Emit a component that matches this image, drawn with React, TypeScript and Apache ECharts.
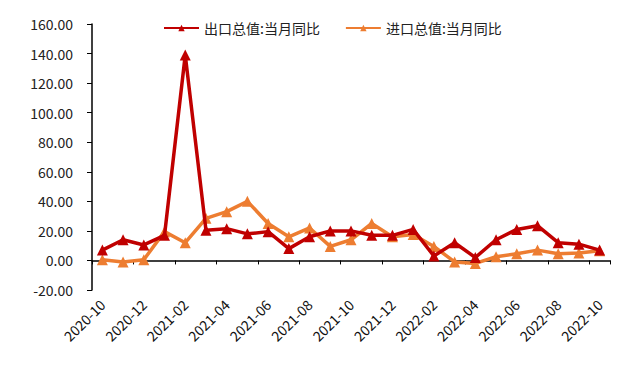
import React, { useEffect, useRef } from "react";
import * as echarts from "echarts";

const categories = [
  "2020-10", "2020-11", "2020-12", "2021-01", "2021-02", "2021-03", "2021-04",
  "2021-05", "2021-06", "2021-07", "2021-08", "2021-09", "2021-10", "2021-11",
  "2021-12", "2022-01", "2022-02", "2022-03", "2022-04", "2022-05", "2022-06",
  "2022-07", "2022-08", "2022-09", "2022-10",
];

const exportYoY = [
  7, 14, 10.5, 17, 139, 20.5, 21.5, 18, 19.5, 8, 16, 20, 20, 17, 17, 21, 3, 12, 2, 14, 21, 23.5, 12, 11, 7,
];

const importYoY = [
  0.5, -1, 0.5, 19.5, 12, 28.5, 33, 40, 25, 16, 22, 9.5, 14, 25, 16, 17.5, 9.5, -1, -2, 2.5, 4.5, 7, 4.5, 5, 6.5,
];

const seriesNames = ["出口总值:当月同比", "进口总值:当月同比"];
const seriesColors = ["#C00000", "#ED7D31"];

const yMin = -20;
const yMax = 160;
const yStep = 20;

const FONT = "'Noto Sans CJK SC', 'Noto Sans', sans-serif";

export default function App() {
  const ref = useRef<HTMLDivElement>(null);

  useEffect(() => {
    document.body.style.margin = "0";
    if (!ref.current) return;
    const chart = echarts.init(ref.current, undefined, { renderer: "svg" });
    const mkSeries = (i: number, data: number[]) => ({
      name: seriesNames[i],
      type: "line",
      xAxisIndex: 0,
      data,
      symbol: "triangle",
      symbolSize: 11,
      lineStyle: { width: 3.5, color: seriesColors[i] },
      itemStyle: { color: seriesColors[i] },
      z: i === 0 ? 3 : 2,
    });
    chart.setOption({
      animation: false,
      textStyle: { fontFamily: FONT },
      legend: {
        top: 16,
        left: 158,
        itemWidth: 35,
        itemHeight: 8,
        itemGap: 25,
        textStyle: { fontSize: 14, color: "#222", fontFamily: FONT },
        data: seriesNames,
      },
      grid: { left: 92, right: 23, top: 24, bottom: 80, containLabel: false },
      xAxis: [
        {
          type: "category",
          data: categories,
          boundaryGap: true,
          axisLine: { onZero: true, lineStyle: { color: "#000", width: 1.5 } },
          axisTick: { show: true, interval: 1, length: 4, lineStyle: { color: "#000" } },
          axisLabel: { show: false },
        },
        {
          type: "category",
          data: categories,
          position: "bottom",
          boundaryGap: true,
          axisLine: { show: false, onZero: false },
          axisTick: { show: false },
          axisLabel: {
            interval: 1,
            rotate: 45,
            margin: 12,
            fontSize: 14,
            color: "#111",
            fontFamily: FONT,
          },
        },
      ],
      yAxis: {
        type: "value",
        min: yMin,
        max: yMax,
        interval: yStep,
        splitLine: { show: false },
        axisLine: { show: true, lineStyle: { color: "#000", width: 1.5 } },
        axisTick: { show: true, length: 5, lineStyle: { color: "#000" } },
        axisLabel: {
          formatter: (v: number) => v.toFixed(2),
          fontSize: 14,
          color: "#222",
          margin: 19,
          fontFamily: FONT,
        },
      },
      series: [mkSeries(0, exportYoY), mkSeries(1, importYoY)],
    });
    return () => chart.dispose();
  }, []);

  return <div ref={ref} style={{ width: 633, height: 370 }} />;
}
